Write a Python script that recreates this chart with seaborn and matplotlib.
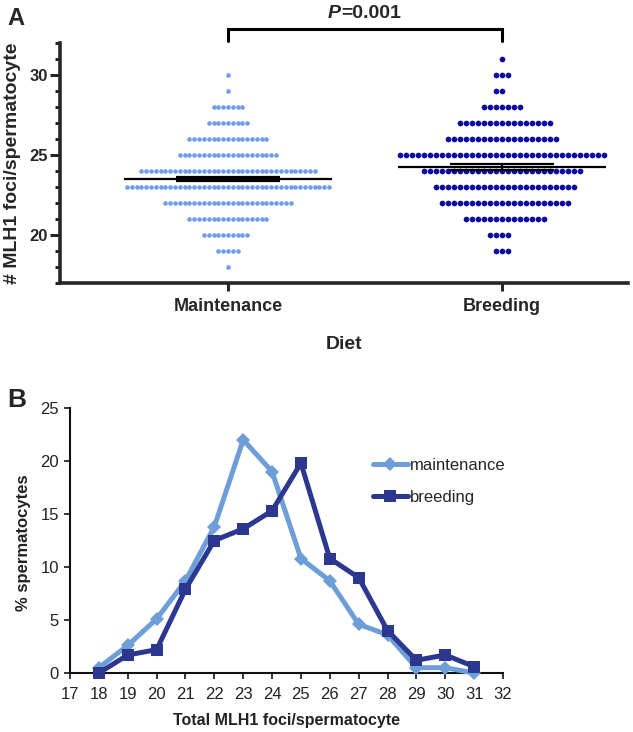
import numpy as np
import pandas as pd
import matplotlib
matplotlib.use("Agg")
import matplotlib.pyplot as plt
from matplotlib.ticker import MultipleLocator, FixedLocator
import seaborn as sns

# ---------------- data ----------------
diets = ["Maintenance", "Breeding"]

# Panel A: number of spermatocytes with each foci count (read from the dot rows)
maint_foci = [18, 19, 20, 21, 22, 23, 24, 25, 26, 27, 28, 29, 30]
maint_counts = [1, 5, 10, 17, 27, 43, 37, 21, 17, 9, 7, 1, 1]
breed_foci = [19, 20, 21, 22, 23, 24, 25, 26, 27, 28, 29, 30, 31]
breed_counts = [3, 4, 14, 22, 24, 27, 35, 19, 16, 7, 2, 3, 1]
p_label = "=0.001"

# Panel B: % spermatocytes per total MLH1 foci
b_foci = [18, 19, 20, 21, 22, 23, 24, 25, 26, 27, 28, 29, 30, 31]
maint_pct = [0.5, 2.6, 5.1, 8.7, 13.8, 22.0, 19.0, 10.8, 8.7, 4.6, 3.6, 0.5, 0.5, 0.0]
breed_pct = [0.0, 1.7, 2.2, 7.9, 12.5, 13.6, 15.3, 19.8, 10.8, 9.0, 4.0, 1.2, 1.7, 0.6]
b_labels = ["maintenance", "breeding"]

# ---------------- style ----------------
sns.set_style("ticks")
plt.rcParams["font.family"] = ["Liberation Sans", "DejaVu Sans"]

c_maint_dot = "#6E9DEA"
c_breed_dot = "#0A0AA3"
c_maint_line = "#6E9ED8"
c_breed_line = "#2C3890"

W, H = 633, 732
fig = plt.figure(figsize=(W / 100, H / 100), dpi=100)
axA = fig.add_axes([60 / W, 1 - 283 / H, 568 / W, 240 / H])
axB = fig.add_axes([70 / W, 1 - 673 / H, 433 / W, 265 / H])

# ---------------- Panel A ----------------
dfm = pd.DataFrame({"Diet": "Maintenance",
                    "foci": np.repeat(maint_foci, maint_counts)})
dfb = pd.DataFrame({"Diet": "Breeding",
                    "foci": np.repeat(breed_foci, breed_counts)})

sns.swarmplot(data=dfm, x="Diet", y="foci", order=diets, color=c_maint_dot,
              size=3.3, linewidth=0, ax=axA, zorder=3, warn_thresh=1)
sns.swarmplot(data=dfb, x="Diet", y="foci", order=diets, color=c_breed_dot,
              size=4.1, linewidth=0, ax=axA, zorder=3, warn_thresh=1)

for i, d in enumerate([dfm, dfb]):
    v = d["foci"].to_numpy(dtype=float)
    m = v.mean()
    s = v.std(ddof=1) / np.sqrt(len(v))
    axA.hlines(m, i - 0.38, i + 0.38, color="black", lw=1.6, zorder=4)
    axA.hlines([m - s, m + s], i - 0.19, i + 0.19, color="black", lw=1.6, zorder=4)
    axA.vlines(i, m - s, m + s, color="black", lw=1.6, zorder=4)

axA.set_xlim(-0.613, 1.460)
axA.set_ylim(17, 32)
axA.yaxis.set_major_locator(FixedLocator([20, 25, 30]))
axA.yaxis.set_minor_locator(MultipleLocator(1))
for sp in ["top", "right"]:
    axA.spines[sp].set_visible(False)
for sp in ["left", "bottom"]:
    axA.spines[sp].set_linewidth(2.6)
axA.tick_params(axis="y", which="major", length=7, width=2.2, pad=1.5,
                labelsize=12)
axA.tick_params(axis="y", which="minor", length=3.5, width=2.2)
axA.tick_params(axis="x", which="major", length=6, width=2.2, pad=5,
                labelsize=13)
for lab in axA.get_xticklabels() + axA.get_yticklabels():
    lab.set_fontweight("bold")
axA.set_xlabel("Diet", fontsize=14, fontweight="bold", va="center")
axA.xaxis.set_label_coords(0.5, -(345 - 283) / 240)
axA.set_ylabel("# MLH1 foci/spermatocyte", fontsize=14, fontweight="bold",
               va="center")
axA.yaxis.set_label_coords((13 - 60) / 568, 0.5)

# significance bracket
axA.plot([0, 0, 1, 1], [32.14, 32.86, 32.86, 32.14], color="black", lw=2.2,
         clip_on=False, solid_joinstyle="miter")
fig.text(341 / W, 1 - 18 / H, "P", ha="right", va="baseline", fontsize=14,
         fontweight="bold", style="italic")
fig.text(341 / W, 1 - 18 / H, p_label, ha="left", va="baseline", fontsize=14,
         fontweight="bold")

fig.text(7 / W, 1 - 25 / H, "A", ha="left", va="baseline", fontsize=17,
         fontweight="bold")

# ---------------- Panel B ----------------
sns.lineplot(x=b_foci, y=maint_pct, color=c_maint_line, marker="D",
             markersize=7, markeredgewidth=0, linewidth=3.6, ax=axB,
             legend=False, clip_on=False, zorder=3)
sns.lineplot(x=b_foci, y=breed_pct, color=c_breed_line, marker="s",
             markersize=9, markeredgewidth=0, linewidth=3.6, ax=axB,
             legend=False, clip_on=False, zorder=4)

axB.set_xlim(17, 32)
axB.set_ylim(0, 25)
axB.set_xticks(range(17, 33))
axB.set_yticks(range(0, 26, 5))
for sp in ["top", "right"]:
    axB.spines[sp].set_visible(False)
for sp in ["left", "bottom"]:
    axB.spines[sp].set_linewidth(1.5)
    axB.spines[sp].set_color("#111111")
axB.tick_params(axis="x", length=4, width=1.3, pad=6, labelsize=12,
                labelcolor="#222222")
axB.tick_params(axis="y", length=4, width=1.3, pad=4, labelsize=12,
                labelcolor="#222222")
axB.set_xlabel("Total MLH1 foci/spermatocyte", fontsize=11.5,
               fontweight="bold", color="#222222", va="center")
axB.xaxis.set_label_coords(0.5, -(720 - 673) / 265)
axB.set_ylabel("% spermatocytes", fontsize=12, fontweight="bold",
               color="#222222", va="center")
axB.yaxis.set_label_coords((23 - 70) / 433, 0.49)

lines = axB.get_lines()[:2]
axB.legend(lines, b_labels, loc="upper left",
           bbox_to_anchor=((373 - 70) / 433, 1 - (458 - 408) / 265),
           frameon=False, fontsize=12, handlelength=2.1, handletextpad=0.1,
           labelspacing=1.0, borderpad=0, borderaxespad=0)

fig.text(7 / W, 1 - 407 / H, "B", ha="left", va="baseline", fontsize=19,
         fontweight="bold")

fig.savefig("out.png", dpi=100)
